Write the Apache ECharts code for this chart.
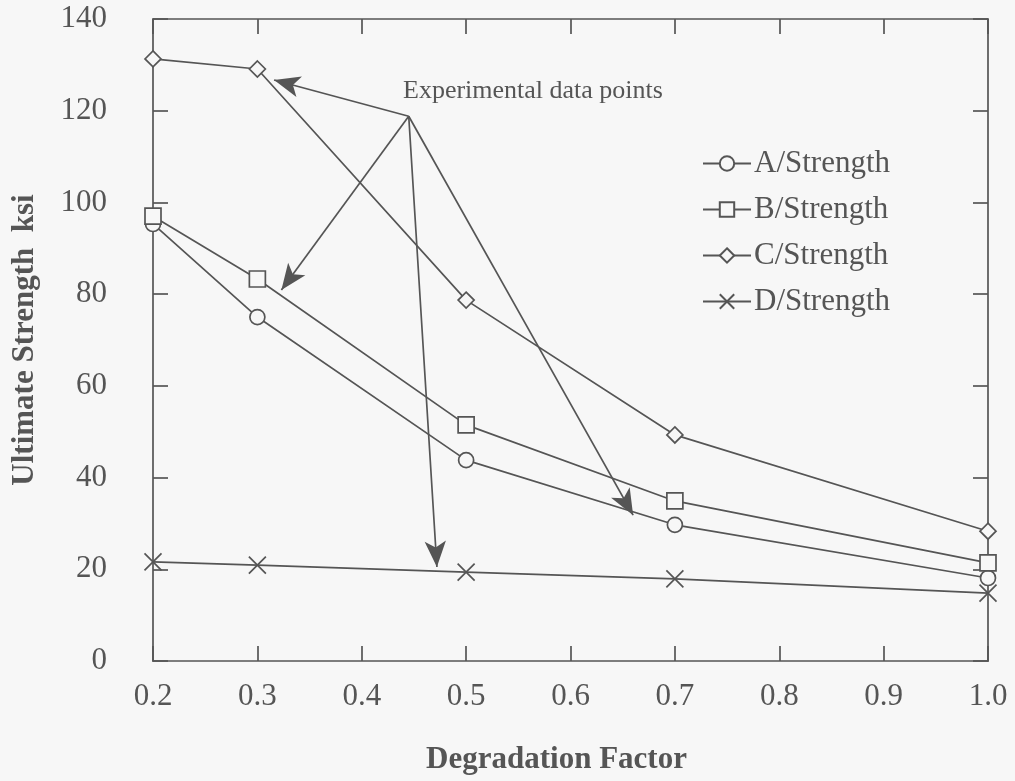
<!DOCTYPE html>
<html>
<head>
<meta charset="utf-8">
<script src="https://cdn.jsdelivr.net/npm/echarts@6/dist/echarts.min.js"></script>
<style>
  html, body { margin: 0; padding: 0; background: #f7f7f7; }
  #main { width: 1015px; height: 781px; }
</style>
</head>
<body>
<div id="main"></div>
<script>
// degradation factor on x, ultimate strength (ksi) on y
var factors = [0.2, 0.3, 0.5, 0.7, 1.0];
var strengthA = [95.3, 75.0, 43.8, 29.7, 18.1];
var strengthB = [97.0, 83.3, 51.5, 34.9, 21.4];
var strengthC = [131.3, 129.1, 78.7, 49.3, 28.3];
var strengthD = [21.6, 20.9, 19.4, 17.9, 14.8];
var seriesNames = ['A/Strength', 'B/Strength', 'C/Strength', 'D/Strength'];

// annotation: one label, arrows fanning out from a common point
var noteText = 'Experimental data points';
var noteFrom = [0.445, 118.8];
var noteTargets = [[0.316, 126.7], [0.323, 80.9], [0.472, 20.5], [0.660, 31.8]];

var ink = '#555';
var bg = '#f7f7f7';
var serif = '"Liberation Serif", "DejaVu Serif", serif';
var crossPath = 'path://M0,0L10,10M10,0L0,10';

function pairs(ys) {
  return factors.map(function (x, i) { return [x, ys[i]]; });
}

function lineSeries(name, ys, symbol, size) {
  return {
    name: name,
    type: 'line',
    data: pairs(ys),
    symbol: symbol,
    symbolSize: size,
    showAllSymbol: true,
    lineStyle: { color: ink, width: 1.7 },
    itemStyle: { color: bg, borderColor: ink, borderWidth: 1.7 },
    emphasis: { disabled: true },
    animation: false
  };
}

var series = [
  lineSeries(seriesNames[0], strengthA, 'circle', 15),
  lineSeries(seriesNames[1], strengthB, 'rect', 16),
  lineSeries(seriesNames[2], strengthC, 'diamond', 16),
  lineSeries(seriesNames[3], strengthD, crossPath, 17)
];

// arrows live in a hidden helper series
series.push({
  type: 'line',
  data: [],
  silent: true,
  animation: false,
  markLine: {
    silent: true,
    symbol: ['none', 'arrow'],
    symbolSize: [16, 26],
    label: { show: false },
    lineStyle: { color: ink, width: 1.7, type: 'solid' },
    data: noteTargets.map(function (t) {
      return [{ coord: noteFrom }, { coord: t }];
    })
  }
});

var chart = echarts.init(document.getElementById('main'), null, { renderer: 'canvas' });

var axisBase = {
  type: 'value',
  axisLine: { show: true, onZero: false, lineStyle: { color: ink, width: 1.7 } },
  axisTick: { show: true, inside: true, length: 15, lineStyle: { color: ink, width: 1.7 } },
  splitLine: { show: false }
};

chart.setOption({
  backgroundColor: bg,
  textStyle: { fontFamily: serif },
  grid: { left: 153, right: 27, top: 19, bottom: 120 },
  legend: {
    orient: 'vertical',
    left: 697,
    top: 143,
    itemWidth: 48,
    itemHeight: 18,
    itemGap: 15,
    data: seriesNames,
    textStyle: { fontFamily: serif, fontSize: 31, color: ink, padding: [0, 0, 0, -2] }
  },
  xAxis: [
    Object.assign({}, axisBase, {
      min: 0.2, max: 1.0, interval: 0.1,
      name: 'Degradation Factor',
      nameLocation: 'middle',
      nameGap: 83,
      nameTextStyle: { fontFamily: serif, fontSize: 31, fontWeight: 'bold', color: ink, padding: [0, 28, 0, 0] },
      axisLabel: {
        margin: 20, fontSize: 31, color: ink, fontFamily: serif,
        formatter: function (v) { return v.toFixed(1); }
      }
    }),
    Object.assign({}, axisBase, {
      min: 0.2, max: 1.0, interval: 0.1, position: 'top',
      axisLabel: { show: false }
    })
  ],
  yAxis: [
    Object.assign({}, axisBase, {
      min: 0, max: 140, interval: 20,
      name: 'Ultimate Strength  ksi',
      nameLocation: 'middle',
      nameGap: 113,
      nameTextStyle: { fontFamily: serif, fontSize: 31, fontWeight: 'bold', color: ink },
      axisLabel: { margin: 46, fontSize: 31, color: ink, fontFamily: serif }
    }),
    Object.assign({}, axisBase, {
      min: 0, max: 140, interval: 20, position: 'right',
      axisLabel: { show: false }
    })
  ],
  graphic: [{
    type: 'text',
    left: 403,
    top: 78,
    silent: true,
    style: { text: noteText, font: '26px ' + serif, fill: ink }
  }],
  series: series
});
</script>
</body>
</html>
